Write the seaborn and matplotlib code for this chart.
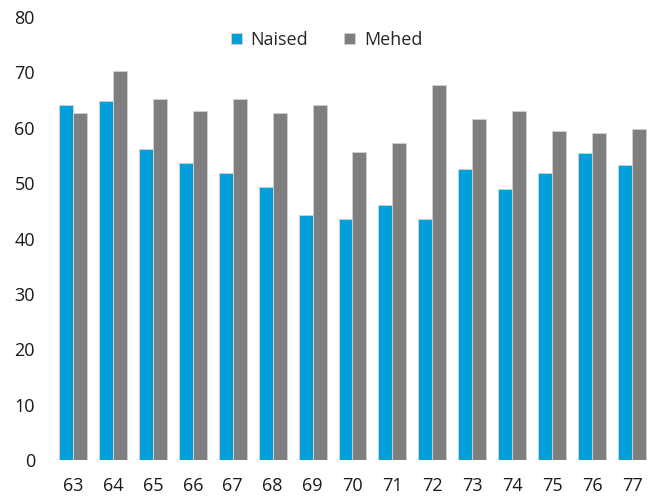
import matplotlib
matplotlib.use("Agg")
import matplotlib.pyplot as plt
import seaborn as sns
import pandas as pd

years = ["63", "64", "65", "66", "67", "68", "69", "70", "71", "72", "73", "74", "75", "76", "77"]
naised = [64.1, 64.8, 56.1, 53.7, 51.8, 49.3, 44.2, 43.5, 46.1, 43.5, 52.6, 48.9, 51.8, 55.5, 53.2]
mehed = [62.7, 70.3, 65.2, 63.0, 65.2, 62.7, 64.1, 55.7, 57.2, 67.7, 61.6, 63.0, 59.4, 59.0, 59.7]
series_names = ["Naised", "Mehed"]
colors = ["#009FDA", "#7F7F7F"]

df = pd.DataFrame({
    "year": years * 2,
    "value": naised + mehed,
    "sex": [series_names[0]] * len(years) + [series_names[1]] * len(years),
})

sns.set_theme(style="white")
plt.rcParams["font.family"] = ["Open Sans", "DejaVu Sans"]

fig = plt.figure(figsize=(6.48, 4.98), dpi=100)
ax = fig.add_axes([53 / 648, 38 / 498, (648 - 53) / 648, (460 - 17) / 498])

sns.barplot(data=df, x="year", y="value", hue="sex", palette=colors,
            width=0.7, edgecolor="#d0d0d0", linewidth=0.7, ax=ax, saturation=1)

ax.set_ylim(0, 80)
ax.set_xlim(-0.5, 14.4)
ax.set_yticks(range(0, 81, 10))
ax.set_xlabel("")
ax.set_ylabel("")
for s in ax.spines.values():
    s.set_visible(False)
ax.tick_params(axis="both", length=0, labelsize=13, colors="#1a1a1a")
ax.tick_params(axis="y", pad=13)
ax.tick_params(axis="x", pad=12)

handles, labels = ax.get_legend_handles_labels()
ax.legend(handles, labels, loc="center", bbox_to_anchor=(0.46, 0.948), ncol=2,
          frameon=False, fontsize=13, handlelength=0.6, handleheight=0.6,
          columnspacing=2.0, handletextpad=0.5)

fig.savefig("out.png", dpi=100)
